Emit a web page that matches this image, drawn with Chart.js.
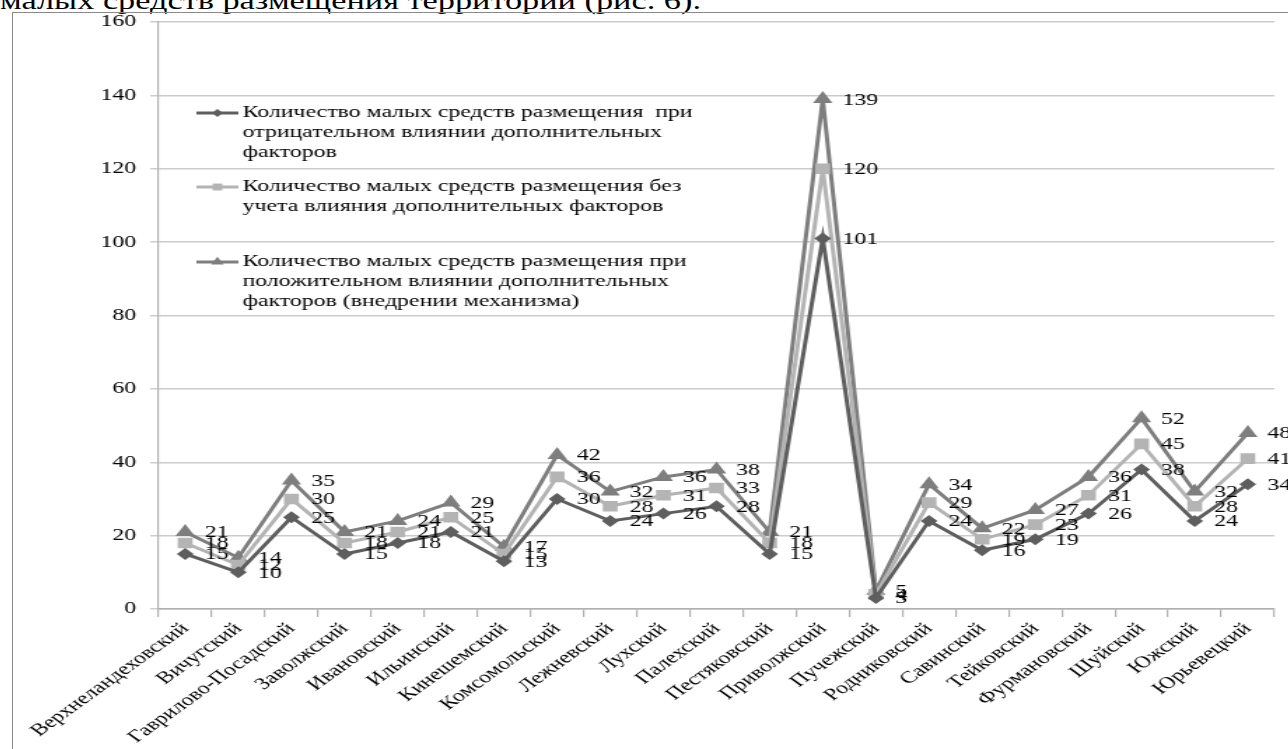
<!DOCTYPE html>
<html lang="ru">
<head>
<meta charset="utf-8">
<script src="https://cdn.jsdelivr.net/npm/chart.js@4.4.1/dist/chart.umd.min.js"></script>
<style>
  html, body { margin: 0; padding: 0; background: #fff; overflow: hidden; }
  body { width: 1288px; height: 749px; position: relative; }
  #zagolovok {
    position: absolute; left: 0; top: -13px; white-space: nowrap;
    font: 24.5px/28px "Liberation Serif", "Times New Roman", serif; color: #000;
    transform: scaleX(1.4); transform-origin: 0 0;
  }
  #ramka {
    position: absolute; left: 12px; top: 12px; width: 1290px; height: 760px;
    border: 1px solid #8a8a8a;
  }
  /* исходная картинка растянута по горизонтали, повторяем это */
  #holder {
    position: absolute; left: 13px; top: 13px; width: 911px; height: 736px;
    transform: scaleX(1.4); transform-origin: 0 0;
  }
</style>
</head>
<body>
<div id="zagolovok">малых средств размещения территории (рис. 6).</div>
<div id="ramka"></div>
<div id="holder"><canvas id="grafico"></canvas></div>
<script>
const rayony = [
  "Верхнеландеховский", "Вичугский", "Гаврилово-Посадский", "Заволжский",
  "Ивановский", "Ильинский", "Кинешемский", "Комсомольский", "Лежневский",
  "Лухский", "Палехский", "Пестяковский", "Приволжский", "Пучежский",
  "Родниковский", "Савинский", "Тейковский", "Фурмановский", "Шуйский",
  "Южский", "Юрьевецкий"
];

const otricatelnoe = [15, 10, 25, 15, 18, 21, 13, 30, 24, 26, 28, 15, 101, 3, 24, 16, 19, 26, 38, 24, 34];
const bezUcheta    = [18, 12, 30, 18, 21, 25, 15, 36, 28, 31, 33, 18, 120, 4, 29, 19, 23, 31, 45, 28, 41];
const polozhitelnoe = [21, 14, 35, 21, 24, 29, 17, 42, 32, 36, 38, 21, 139, 5, 34, 22, 27, 36, 52, 32, 48];

const nazvanie1 = ["Количество малых средств размещения  при", "отрицательном влиянии дополнительных", "факторов"];
const nazvanie2 = ["Количество малых средств размещения без", "учета влияния дополнительных факторов"];
const nazvanie3 = ["Количество малых средств размещения при", "положительном влиянии дополнительных", "факторов (внедрении механизма)"];

const yTicks = [0, 20, 40, 60, 80, 100, 120, 140, 160];

const SHRIFT = '"Liberation Serif", "Times New Roman", serif';

// подписи значений справа от точек
const podpisi = {
  id: "podpisi",
  afterDatasetsDraw(chart) {
    const ctx = chart.ctx;
    ctx.save();
    ctx.font = "17px " + SHRIFT;
    ctx.fillStyle = "#000";
    ctx.textAlign = "left";
    ctx.textBaseline = "middle";
    chart.data.datasets.forEach((ds, i) => {
      chart.getDatasetMeta(i).data.forEach((p, j) => {
        ctx.fillText(String(ds.data[j]), p.x + 14, p.y + 1);
      });
    });
    ctx.restore();
  }
};

// легенда внутри области графика, с переносом строк
const legenda = {
  id: "legenda",
  afterDraw(chart) {
    const ctx = chart.ctx;
    const starty = [100, 174, 249];
    ctx.save();
    chart.data.datasets.forEach((ds, i) => {
      const y = starty[i];
      const x0 = 131;
      ctx.strokeStyle = ds.borderColor;
      ctx.lineWidth = 3;
      ctx.beginPath();
      ctx.moveTo(x0, y);
      ctx.lineTo(x0 + 30, y);
      ctx.stroke();
      ctx.fillStyle = ds.borderColor;
      Chart.helpers.drawPoint(ctx, {
        pointStyle: ds.pointStyle, radius: ds.pointRadius * 0.65, rotation: 0, borderWidth: 0
      }, x0 + 15, y);
      ctx.font = "17px " + SHRIFT;
      ctx.fillStyle = "#000";
      ctx.textAlign = "left";
      ctx.textBaseline = "middle";
      ds.nazvanie.forEach((s, k) => ctx.fillText(s, x0 + 33, y + k * 20));
    });
    ctx.restore();
  }
};

function seriya(nazvanie, data, cvet, stil, radius) {
  return {
    label: nazvanie.join(" "),
    nazvanie: nazvanie,
    data: data,
    borderColor: cvet,
    backgroundColor: cvet,
    pointBackgroundColor: cvet,
    pointBorderColor: cvet,
    pointBorderWidth: 0,
    pointStyle: stil,
    pointRadius: radius,
    borderWidth: 3,
    tension: 0
  };
}

const ctx = document.getElementById("grafico").getContext("2d");
new Chart(ctx, {
  type: "line",
  data: {
    labels: rayony,
    datasets: [
      seriya(nazvanie1, otricatelnoe, "#5e5e5e", "rectRot", 6),
      seriya(nazvanie2, bezUcheta, "#b4b4b4", "rect", 7.5),
      seriya(nazvanie3, polozhitelnoe, "#7e7e7e", "triangle", 8)
    ]
  },
  options: {
    responsive: true,
    maintainAspectRatio: false,
    animation: false,
    layout: { padding: { top: 0, right: 10, left: 0, bottom: 0 } },
    plugins: {
      legend: { display: false },
      tooltip: { enabled: false },
      title: { display: false }
    },
    scales: {
      x: {
        offset: true,
        grid: {
          offset: true, drawOnChartArea: false, drawTicks: true,
          tickLength: 8, color: "#b0b0b0", lineWidth: 1.2
        },
        border: { color: "#b0b0b0", width: 1.5 },
        ticks: {
          autoSkip: false, maxRotation: 45, minRotation: 45, padding: 2,
          color: "#000", font: { family: SHRIFT, size: 17 }
        },
        afterFit(scale) { scale.height = 140; }
      },
      y: {
        min: 0, max: 160,
        afterBuildTicks(scale) { scale.ticks = yTicks.map(v => ({ value: v })); },
        grid: { color: "#cccccc", lineWidth: 1.5, tickLength: 6 },
        border: { color: "#b0b0b0", width: 1.2 },
        ticks: { color: "#000", padding: 10, font: { family: SHRIFT, size: 17 } },
        afterFit(scale) {
          scale.width = 104;
          scale.paddingTop = 9;
          scale.paddingBottom = 0;
        }
      }
    }
  },
  plugins: [podpisi, legenda]
});
</script>
</body>
</html>
